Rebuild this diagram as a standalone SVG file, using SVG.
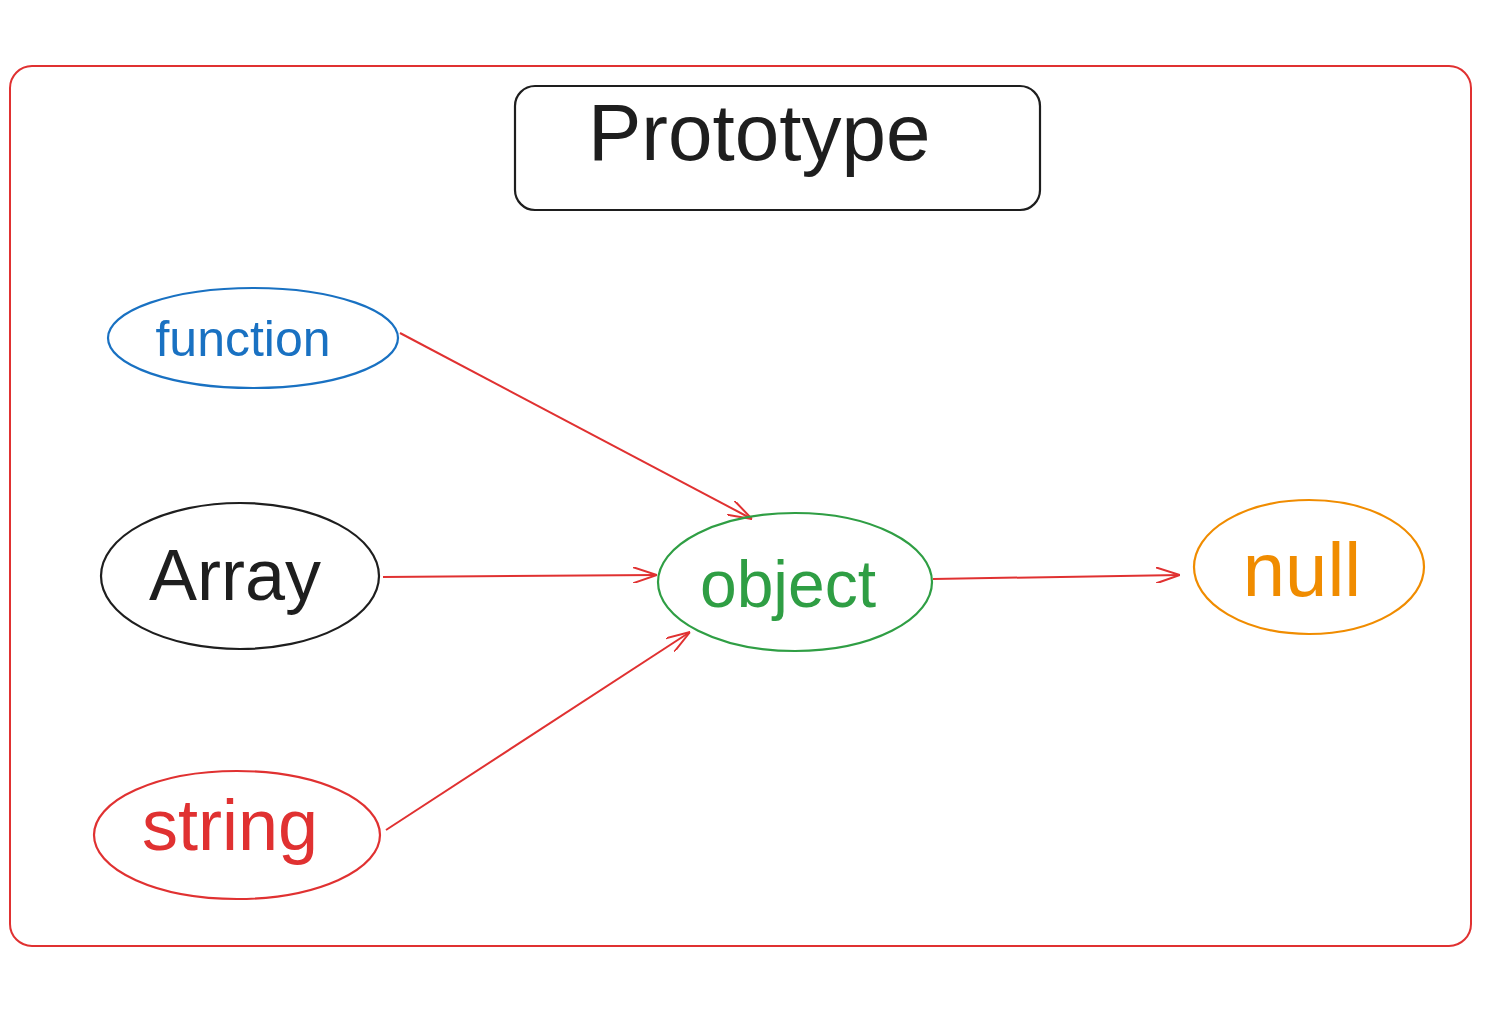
<svg xmlns="http://www.w3.org/2000/svg" width="1500" height="1027" viewBox="0 0 1500 1027">
<style>
.t{font-family:"Liberation Sans",Arial,Helvetica,sans-serif}
.e{fill:none;stroke-width:2.2}
.c{fill:none;stroke:#e03131;stroke-width:2;marker-end:url(#ah)}
</style>
<defs>
<marker id="ah" markerUnits="userSpaceOnUse" viewBox="0 0 24 16" refX="24" refY="8" markerWidth="24" markerHeight="16" orient="auto">
<path d="M0,0 L24,8 L0,16" fill="none" stroke="#e03131" stroke-width="2"/>
</marker>
</defs>
<rect width="1500" height="1027" fill="#ffffff"/>
<g id="frame"><rect x="10" y="66" width="1461" height="880" rx="22" fill="none" stroke="#e03131" stroke-width="2"/></g>
<g id="title">
<rect x="515" y="86" width="525" height="124" rx="20" fill="none" stroke="#1e1e1e" stroke-width="2.2"/>
<text class="t" x="588" y="160" font-size="80" fill="#1e1e1e">Prototype</text>
</g>
<g id="connectors">
<line class="c" x1="400" y1="333" x2="752" y2="519"/>
<line class="c" x1="383" y1="577" x2="657" y2="575"/>
<line class="c" x1="386" y1="830" x2="690" y2="632"/>
<line class="c" x1="933" y1="579" x2="1180" y2="575"/>
</g>
<g id="function">
<ellipse class="e" cx="253" cy="338" rx="145" ry="50" stroke="#1971c2"/>
<text class="t" x="243" y="356" font-size="50" fill="#1971c2" text-anchor="middle">function</text>
</g>
<g id="array">
<ellipse class="e" cx="240" cy="576" rx="139" ry="73" stroke="#1e1e1e"/>
<text class="t" x="235" y="600" font-size="72" fill="#1e1e1e" text-anchor="middle">Array</text>
</g>
<g id="string">
<ellipse class="e" cx="237" cy="835" rx="143" ry="64" stroke="#e03131"/>
<text class="t" x="230" y="850" font-size="72" fill="#e03131" text-anchor="middle">string</text>
</g>
<g id="object">
<ellipse class="e" cx="795" cy="582" rx="137" ry="69" stroke="#2f9e44"/>
<text class="t" x="788" y="607" font-size="66" fill="#2f9e44" text-anchor="middle">object</text>
</g>
<g id="null">
<ellipse class="e" cx="1309" cy="567" rx="115" ry="67" stroke="#f08c00"/>
<text class="t" x="1302" y="596" font-size="76" fill="#f08c00" text-anchor="middle">null</text>
</g>
</svg>
